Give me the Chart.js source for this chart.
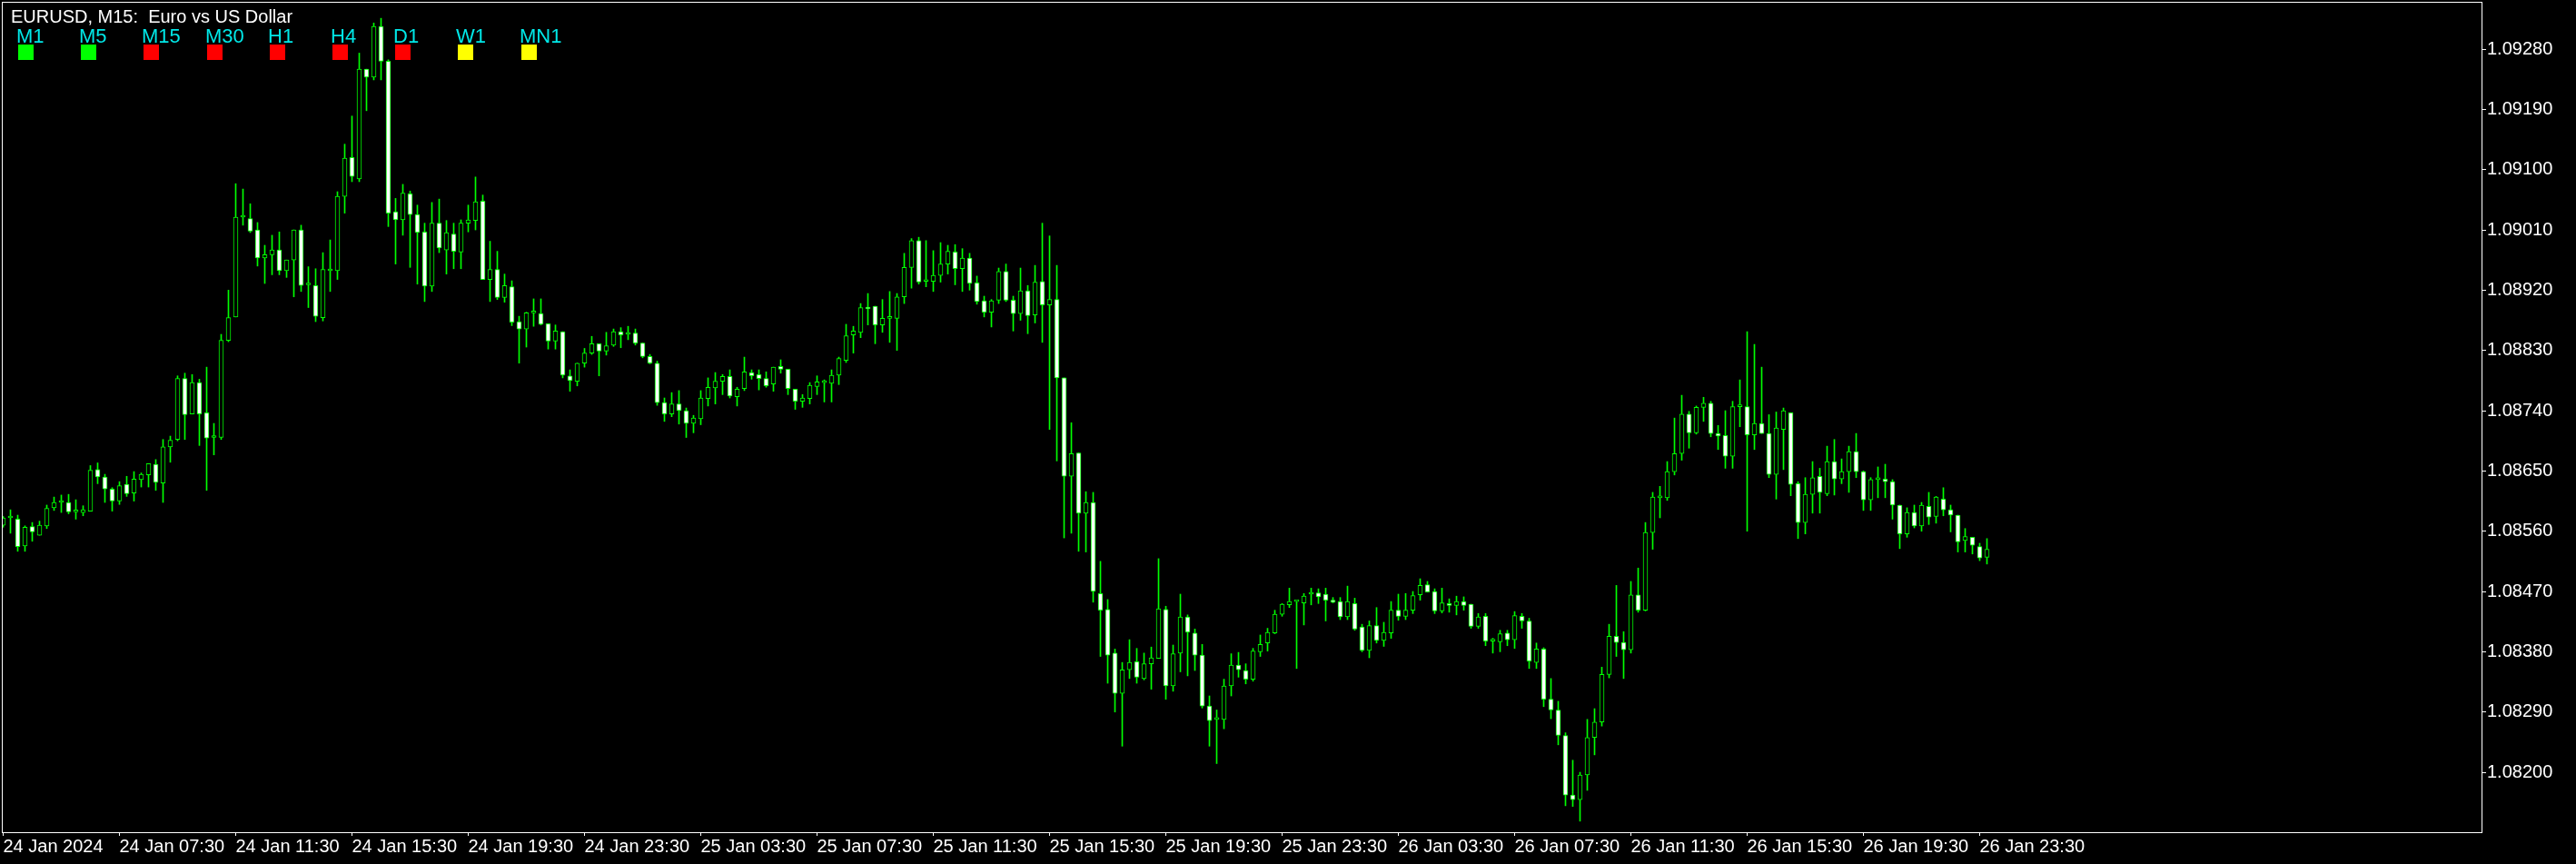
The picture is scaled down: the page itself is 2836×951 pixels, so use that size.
<!DOCTYPE html>
<html>
<head>
<meta charset="utf-8">
<title>EURUSD, M15</title>
<script src="https://cdn.jsdelivr.net/npm/chart.js@4.4.1/dist/chart.umd.min.js"></script>
<style>
  html, body { margin: 0; padding: 0; background: #000; }
  #wrap { width: 2836px; height: 951px; background: #000; }
</style>
</head>
<body>
<div id="wrap"><canvas id="chart" width="2836" height="951"></canvas></div>
<script>
// EURUSD M15 bars, 24 Jan 2024 03:30 .. 26 Jan 2024 23:45 (one entry per 15 min bar)
const opens = [
	1.08569,1.08580,1.08578,1.08538,1.08567,1.08554,1.08568,1.08595,1.08603,1.08603,
	1.08589,1.08588,1.08590,1.08652,1.08641,1.08623,1.08605,1.08630,1.08617,1.08637,
	1.08644,1.08660,1.08632,1.08686,1.08697,1.08788,1.08735,1.08782,1.08737,1.08700,
	1.08700,1.08845,1.08880,1.09029,1.09027,1.09010,1.08968,1.08973,1.08980,1.08949,
	1.08965,1.09010,1.08928,1.08927,1.08879,1.08949,1.08949,1.09060,1.09118,1.09086,
	1.09250,1.09238,1.09314,1.09262,1.09037,1.09025,1.09064,1.09033,1.09007,1.08926,
	1.09020,1.08980,1.09004,1.08977,1.09020,1.09024,1.09053,1.08936,1.08951,1.08909,
	1.08925,1.08873,1.08862,1.08886,1.08885,1.08870,1.08844,1.08858,1.08792,1.08784,
	1.08811,1.08826,1.08840,1.08829,1.08838,1.08858,1.08854,1.08856,1.08841,1.08821,
	1.08811,1.08752,1.08735,1.08750,1.08740,1.08721,1.08728,1.08758,1.08774,1.08784,
	1.08791,1.08761,1.08773,1.08797,1.08794,1.08788,1.08780,1.08806,1.08802,1.08772,
	1.08754,1.08758,1.08776,1.08782,1.08781,1.08793,1.08815,1.08853,1.08857,1.08894,
	1.08896,1.08868,1.08878,1.08878,1.08910,1.08954,1.08994,1.08933,1.08933,1.08942,
	1.08959,1.08977,1.08952,1.08968,1.08931,1.08904,1.08887,1.08905,1.08948,1.08905,
	1.08885,1.08919,1.08883,1.08933,1.08898,1.08906,1.08789,1.08642,1.08677,1.08587,
	1.08603,1.08467,1.08443,1.08378,1.08318,1.08353,1.08365,1.08340,1.08362,1.08370,
	1.08443,1.08329,1.08378,1.08432,1.08408,1.08375,1.08299,1.08279,1.08279,1.08329,
	1.08360,1.08352,1.08339,1.08380,1.08393,1.08408,1.08436,1.08450,1.08455,1.08453,
	1.08466,1.08468,1.08466,1.08457,1.08455,1.08432,1.08452,1.08417,1.08382,1.08419,
	1.08397,1.08408,1.08442,1.08433,1.08442,1.08465,1.08480,1.08470,1.08441,1.08452,
	1.08449,1.08455,1.08451,1.08418,1.08433,1.08396,1.08395,1.08408,1.08398,1.08433,
	1.08426,1.08364,1.08384,1.08309,1.08293,1.08255,1.08166,1.08159,1.08196,1.08252,
	1.08275,1.08346,1.08403,1.08394,1.08383,1.08465,1.08442,1.08558,1.08610,1.08610,
	1.08649,1.08676,1.08735,1.08707,1.08745,1.08751,1.08706,1.08703,1.08672,1.08746,
	1.08746,1.08704,1.08721,1.08706,1.08645,1.08712,1.08737,1.08631,1.08573,1.08615,
	1.08642,1.08616,1.08664,1.08638,1.08649,1.08679,1.08649,1.08607,1.08637,1.08638,
	1.08634,1.08599,1.08556,1.08588,1.08568,1.08597,1.08582,1.08608,1.08592,1.08584,
	1.08546,1.08551,1.08537,1.08521
];
const highs = [
	1.08582,1.08592,1.08584,1.08568,1.08573,1.08575,1.08599,1.08611,1.08614,1.08615,
	1.08607,1.08598,1.08658,1.08662,1.08645,1.08625,1.08634,1.08642,1.08649,1.08647,
	1.08661,1.08667,1.08697,1.08702,1.08792,1.08796,1.08794,1.08787,1.08805,1.08721,
	1.08854,1.08920,1.09079,1.09071,1.09049,1.09021,1.08987,1.09002,1.09007,1.08965,
	1.09010,1.09017,1.08955,1.08952,1.08976,1.08995,1.09067,1.09138,1.09180,1.09274,
	1.09250,1.09319,1.09326,1.09264,1.09057,1.09078,1.09068,1.09047,1.09020,1.09051,
	1.09056,1.09024,1.09020,1.09025,1.09047,1.09089,1.09062,1.08993,1.08978,1.08944,
	1.08934,1.08881,1.08887,1.08907,1.08907,1.08870,1.08868,1.08858,1.08801,1.08811,
	1.08833,1.08851,1.08840,1.08857,1.08862,1.08864,1.08866,1.08862,1.08841,1.08824,
	1.08814,1.08759,1.08767,1.08770,1.08744,1.08733,1.08770,1.08789,1.08797,1.08794,
	1.08801,1.08775,1.08820,1.08801,1.08801,1.08798,1.08805,1.08816,1.08802,1.08772,
	1.08764,1.08782,1.08792,1.08786,1.08801,1.08820,1.08869,1.08866,1.08900,1.08915,
	1.08896,1.08906,1.08918,1.08915,1.08975,1.08997,1.08999,1.08994,1.08979,1.08991,
	1.08987,1.08988,1.08982,1.08975,1.08941,1.08911,1.08906,1.08953,1.08959,1.08911,
	1.08953,1.08927,1.08957,1.09020,1.09001,1.08957,1.08789,1.08722,1.08677,1.08619,
	1.08618,1.08515,1.08458,1.08384,1.08364,1.08398,1.08385,1.08378,1.08387,1.08519,
	1.08448,1.08390,1.08466,1.08435,1.08414,1.08391,1.08314,1.08293,1.08339,1.08377,
	1.08379,1.08362,1.08385,1.08405,1.08415,1.08442,1.08452,1.08475,1.08456,1.08467,
	1.08475,1.08474,1.08475,1.08461,1.08461,1.08478,1.08460,1.08421,1.08426,1.08446,
	1.08424,1.08455,1.08466,1.08467,1.08470,1.08489,1.08485,1.08474,1.08475,1.08459,
	1.08463,1.08462,1.08451,1.08437,1.08437,1.08400,1.08412,1.08412,1.08440,1.08437,
	1.08430,1.08393,1.08386,1.08340,1.08306,1.08259,1.08218,1.08200,1.08279,1.08295,
	1.08357,1.08421,1.08479,1.08410,1.08485,1.08505,1.08573,1.08618,1.08627,1.08664,
	1.08729,1.08763,1.08739,1.08747,1.08760,1.08754,1.08718,1.08740,1.08754,1.08786,
	1.08858,1.08839,1.08805,1.08734,1.08738,1.08744,1.08737,1.08634,1.08640,1.08664,
	1.08654,1.08687,1.08697,1.08668,1.08687,1.08706,1.08650,1.08640,1.08656,1.08660,
	1.08637,1.08599,1.08595,1.08599,1.08603,1.08618,1.08612,1.08625,1.08599,1.08584,
	1.08564,1.08551,1.08542,1.08549
];
const lows = [
	1.08566,1.08557,1.08530,1.08530,1.08545,1.08554,1.08564,1.08591,1.08588,1.08586,
	1.08578,1.08583,1.08590,1.08631,1.08603,1.08590,1.08600,1.08612,1.08605,1.08626,
	1.08626,1.08621,1.08603,1.08663,1.08695,1.08697,1.08735,1.08688,1.08621,1.08674,
	1.08697,1.08843,1.08880,1.09017,1.09006,1.08956,1.08930,1.08943,1.08943,1.08939,
	1.08910,1.08918,1.08894,1.08873,1.08874,1.08918,1.08936,1.09035,1.09082,1.09082,
	1.09188,1.09234,1.09234,1.09015,1.08959,1.09002,1.08954,1.08929,1.08903,1.08918,
	1.08976,1.08944,1.08952,1.08952,1.09007,1.09010,1.08936,1.08903,1.08906,1.08902,
	1.08867,1.08811,1.08835,1.08866,1.08868,1.08832,1.08832,1.08789,1.08769,1.08777,
	1.08805,1.08824,1.08792,1.08823,1.08836,1.08834,1.08846,1.08838,1.08819,1.08810,
	1.08748,1.08724,1.08731,1.08720,1.08700,1.08707,1.08719,1.08747,1.08750,1.08764,
	1.08759,1.08747,1.08770,1.08787,1.08771,1.08775,1.08769,1.08796,1.08764,1.08742,
	1.08745,1.08750,1.08764,1.08753,1.08753,1.08779,1.08812,1.08826,1.08849,1.08868,
	1.08840,1.08857,1.08842,1.08830,1.08900,1.08923,1.08929,1.08925,1.08918,1.08932,
	1.08944,1.08928,1.08918,1.08920,1.08899,1.08880,1.08865,1.08900,1.08903,1.08859,
	1.08875,1.08855,1.08871,1.08842,1.08712,1.08665,1.08550,1.08557,1.08530,1.08529,
	1.08454,1.08373,1.08333,1.08290,1.08239,1.08340,1.08333,1.08338,1.08324,1.08370,
	1.08309,1.08321,1.08350,1.08344,1.08352,1.08296,1.08239,1.08213,1.08265,1.08314,
	1.08342,1.08332,1.08336,1.08373,1.08381,1.08407,1.08433,1.08446,1.08355,1.08420,
	1.08450,1.08452,1.08426,1.08453,1.08428,1.08428,1.08412,1.08380,1.08371,1.08393,
	1.08388,1.08400,1.08427,1.08428,1.08437,1.08457,1.08469,1.08437,1.08438,1.08439,
	1.08435,1.08442,1.08415,1.08415,1.08389,1.08378,1.08380,1.08389,1.08385,1.08415,
	1.08355,1.08355,1.08298,1.08280,1.08241,1.08150,1.08149,1.08127,1.08173,1.08226,
	1.08269,1.08341,1.08373,1.08340,1.08378,1.08439,1.08441,1.08533,1.08580,1.08606,
	1.08644,1.08666,1.08684,1.08705,1.08724,1.08701,1.08682,1.08654,1.08654,1.08716,
	1.08560,1.08682,1.08706,1.08640,1.08608,1.08652,1.08613,1.08549,1.08556,1.08587,
	1.08587,1.08613,1.08614,1.08631,1.08618,1.08640,1.08591,1.08591,1.08610,1.08610,
	1.08578,1.08534,1.08551,1.08565,1.08560,1.08570,1.08572,1.08583,1.08559,1.08529,
	1.08529,1.08526,1.08516,1.08511
];
const closes = [
	1.08580,1.08580,1.08537,1.08566,1.08559,1.08569,1.08594,1.08603,1.08603,1.08589,
	1.08589,1.08592,1.08651,1.08641,1.08623,1.08605,1.08628,1.08616,1.08638,1.08645,
	1.08661,1.08633,1.08686,1.08696,1.08788,1.08734,1.08782,1.08735,1.08699,1.08700,
	1.08845,1.08879,1.09029,1.09029,1.09008,1.08968,1.08973,1.08980,1.08949,1.08965,
	1.09010,1.08927,1.08928,1.08881,1.08951,1.08949,1.09060,1.09117,1.09090,1.09250,
	1.09238,1.09314,1.09262,1.09035,1.09025,1.09065,1.09033,1.09006,1.08926,1.09020,
	1.08983,1.09006,1.08978,1.09020,1.09025,1.09052,1.08936,1.08951,1.08909,1.08927,
	1.08872,1.08862,1.08886,1.08886,1.08869,1.08844,1.08859,1.08793,1.08785,1.08811,
	1.08826,1.08840,1.08829,1.08837,1.08858,1.08853,1.08854,1.08841,1.08821,1.08811,
	1.08752,1.08735,1.08750,1.08740,1.08721,1.08729,1.08759,1.08775,1.08784,1.08791,
	1.08762,1.08772,1.08798,1.08792,1.08788,1.08777,1.08805,1.08802,1.08773,1.08754,
	1.08759,1.08778,1.08783,1.08782,1.08793,1.08818,1.08852,1.08859,1.08894,1.08892,
	1.08868,1.08878,1.08878,1.08910,1.08954,1.08994,1.08932,1.08933,1.08942,1.08959,
	1.08978,1.08952,1.08968,1.08930,1.08903,1.08887,1.08904,1.08948,1.08905,1.08885,
	1.08919,1.08882,1.08932,1.08898,1.08906,1.08789,1.08642,1.08676,1.08587,1.08603,
	1.08470,1.08442,1.08375,1.08318,1.08353,1.08364,1.08342,1.08362,1.08371,1.08444,
	1.08329,1.08377,1.08432,1.08409,1.08375,1.08299,1.08277,1.08279,1.08329,1.08360,
	1.08353,1.08339,1.08381,1.08391,1.08409,1.08436,1.08451,1.08455,1.08455,1.08463,
	1.08468,1.08462,1.08457,1.08454,1.08432,1.08455,1.08414,1.08382,1.08419,1.08397,
	1.08409,1.08442,1.08433,1.08442,1.08464,1.08479,1.08469,1.08441,1.08453,1.08449,
	1.08455,1.08449,1.08418,1.08432,1.08396,1.08396,1.08407,1.08398,1.08434,1.08426,
	1.08366,1.08384,1.08309,1.08293,1.08255,1.08166,1.08159,1.08196,1.08252,1.08275,
	1.08346,1.08403,1.08394,1.08383,1.08465,1.08442,1.08558,1.08611,1.08610,1.08649,
	1.08676,1.08735,1.08707,1.08745,1.08751,1.08706,1.08702,1.08672,1.08746,1.08746,
	1.08704,1.08721,1.08706,1.08645,1.08714,1.08740,1.08630,1.08573,1.08615,1.08640,
	1.08618,1.08664,1.08638,1.08649,1.08679,1.08649,1.08607,1.08637,1.08639,1.08634,
	1.08599,1.08556,1.08588,1.08568,1.08599,1.08581,1.08611,1.08592,1.08584,1.08544,
	1.08552,1.08539,1.08520,1.08533
];

// one time label every 16 bars (4 hours), starting at the first bar
const timeLabels = [
	'24 Jan 2024', '24 Jan 07:30', '24 Jan 11:30', '24 Jan 15:30', '24 Jan 19:30',
	'24 Jan 23:30', '25 Jan 03:30', '25 Jan 07:30', '25 Jan 11:30', '25 Jan 15:30',
	'25 Jan 19:30', '25 Jan 23:30', '26 Jan 03:30', '26 Jan 07:30', '26 Jan 11:30',
	'26 Jan 15:30', '26 Jan 19:30', '26 Jan 23:30'
];
const barsPerLabel = 16;

const priceTicks = [
	1.08200, 1.08290, 1.08380, 1.08470, 1.08560, 1.08650, 1.08740,
	1.08830, 1.08920, 1.09010, 1.09100, 1.09190, 1.09280
];

const titleText = 'EURUSD, M15:  Euro vs US Dollar';
const tfNames = ['M1', 'M5', 'M15', 'M30', 'H1', 'H4', 'D1', 'W1', 'MN1'];
const tfColors = ['#00ff00', '#00ff00', '#ff0000', '#ff0000', '#ff0000', '#ff0000', '#ff0000', '#ffff00', '#ffff00'];

const LIME = '#00ff00';
const FONT = '"Liberation Sans", Arial, sans-serif';

const bars = opens.map((o, i) => i);
const bodies = bars.map((i) => ({ x: i, y: [opens[i], closes[i]] }));
const wicks = bars.map((i) => ({ x: i, y: [lows[i], highs[i]] }));
const bodyFill = bars.map((i) => (closes[i] >= opens[i] ? '#000000' : '#ffffff'));

// frame + header text drawn on top, like the terminal does
const framePlugin = {
	id: 'frame',
	afterDraw(chart) {
		const { ctx, chartArea: a } = chart;
		ctx.save();
		ctx.strokeStyle = '#ffffff';
		ctx.lineWidth = 1;
		ctx.strokeRect(a.left + 0.5, a.top + 0.5, a.right - a.left, a.bottom - a.top);

		ctx.textBaseline = 'alphabetic';
		ctx.textAlign = 'left';
		ctx.font = '20px ' + FONT;
		ctx.fillStyle = '#ffffff';
		ctx.fillText(titleText, 12, 25);

		ctx.font = '22px ' + FONT;
		tfNames.forEach((name, k) => {
			ctx.fillStyle = '#00e8e8';
			ctx.fillText(name, Math.round(18 + k * 69.2), 47);
			ctx.fillStyle = tfColors[k];
			ctx.fillRect(Math.round(20 + k * 69.2), 49, 17, 17);
		});
		ctx.restore();
	},
};

// keep the plot box where the terminal puts it (no label overhang padding)
function noOverhang(scale) {
	scale.paddingTop = 0;
	scale.paddingBottom = 0;
	scale.paddingLeft = 0;
	scale.paddingRight = 0;
}

const ctx = document.getElementById('chart').getContext('2d');
const my_chart = new Chart(ctx, {
	type: 'bar',
	data: {
		datasets: [
			{
				label: 'Body',
				data: bodies,
				backgroundColor: bodyFill,
				borderColor: LIME,
				borderWidth: 1,
				borderSkipped: false,
				barThickness: 5,
				minBarLength: 2,
				grouped: false,
				order: 0,
			},
			{
				label: 'Wick',
				data: wicks,
				backgroundColor: LIME,
				borderWidth: 0,
				barThickness: 1,
				minBarLength: 1,
				grouped: false,
				order: 1,
			},
		],
	},
	options: {
		responsive: false,
		animation: false,
		events: [],
		devicePixelRatio: 1,
		layout: { autoPadding: false, padding: { left: 2, top: 2, right: 0, bottom: 0 } },
		plugins: {
			legend: { display: false },
			tooltip: { enabled: false },
		},
		scales: {
			x: {
				type: 'linear',
				position: 'bottom',
				offset: false,
				min: -0.1875,
				max: 341.0625,
				afterBuildTicks: (scale) => {
					scale.ticks = timeLabels.map((t, k) => ({ value: k * barsPerLabel }));
				},
				afterFit: (scale) => {
					scale.height = 35;
					noOverhang(scale);
				},
				ticks: {
					autoSkip: false,
					maxRotation: 0,
					minRotation: 0,
					align: 'start',
					padding: 0,
					color: '#ffffff',
					font: { family: FONT, size: 20 },
					callback: (value, index) => timeLabels[index],
				},
				grid: { offset: false, drawOnChartArea: false, drawTicks: true, tickLength: 4, color: '#ffffff' },
				border: { display: false },
			},
			y: {
				type: 'linear',
				position: 'right',
				min: 1.081105,
				max: 1.093506,
				afterBuildTicks: (scale) => {
					scale.ticks = priceTicks.map((v) => ({ value: v }));
				},
				afterFit: (scale) => {
					scale.width = 104;
					noOverhang(scale);
				},
				ticks: {
					padding: 1,
					color: '#ffffff',
					font: { family: FONT, size: 20 },
					callback: (value) => value.toFixed(5),
				},
				grid: { drawOnChartArea: false, drawTicks: true, tickLength: 5, color: '#ffffff' },
				border: { display: false },
			},
		},
	},
	plugins: [framePlugin],
});
</script>
</body>
</html>
